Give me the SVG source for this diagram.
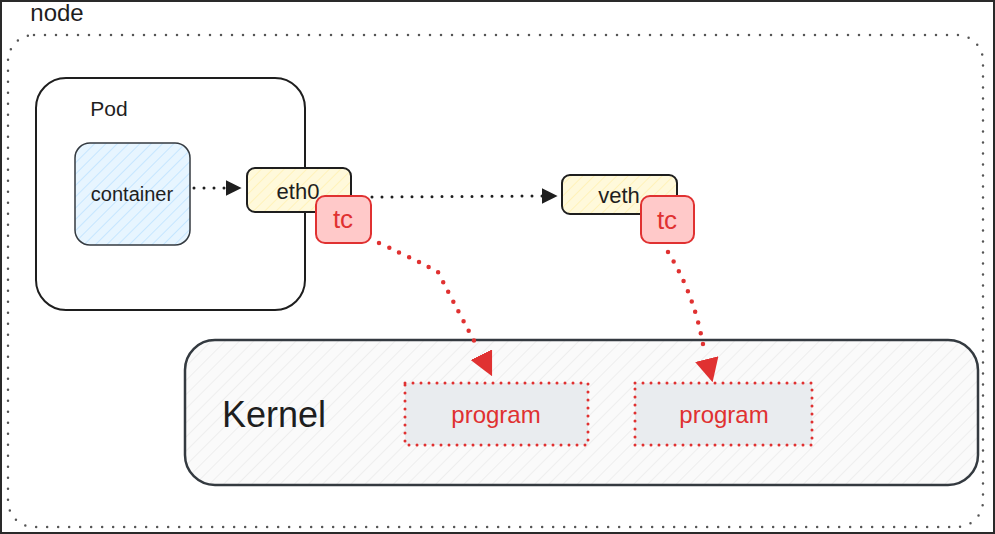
<svg xmlns="http://www.w3.org/2000/svg" width="995" height="534" viewBox="0 0 995 534">
<style>
.t{font-family:"Liberation Sans","DejaVu Sans",sans-serif;text-anchor:middle;dominant-baseline:central}
.blk{fill:#1e1e1e}
.red{fill:#e03131}
.box{stroke:#1e1e1e;stroke-width:2}
.dotb{fill:none;stroke:#1e1e1e;stroke-width:3;stroke-dasharray:0 10;stroke-linecap:round}
.dotr{fill:none;stroke:#e03131;stroke-width:4.5;stroke-dasharray:0 11;stroke-linecap:round}
</style>
<defs>
<pattern id="hb" width="8" height="8" patternUnits="userSpaceOnUse" patternTransform="rotate(45)">
<rect width="8" height="8" fill="#e7f5ff"/><line x1="0" y1="0" x2="0" y2="8" stroke="#a5d8ff" stroke-width="1"/>
</pattern>
<pattern id="hy" width="8" height="8" patternUnits="userSpaceOnUse" patternTransform="rotate(45)">
<rect width="8" height="8" fill="#fff9db"/><line x1="0" y1="0" x2="0" y2="8" stroke="#ffec99" stroke-width="1"/>
</pattern>
<pattern id="hg" width="10" height="10" patternUnits="userSpaceOnUse" patternTransform="rotate(45)">
<rect width="10" height="10" fill="#fafafa"/><line x1="0" y1="0" x2="0" y2="10" stroke="#e6e6e6" stroke-width="1.2"/>
</pattern>
<marker id="ab" viewBox="0 0 10 10" refX="9" refY="5" markerWidth="16" markerHeight="16" markerUnits="userSpaceOnUse" orient="auto">
<path d="M0,0 L10,5 L0,10 Z" fill="#1e1e1e"/>
</marker>
<marker id="ar" viewBox="0 0 10 10" refX="9" refY="5" markerWidth="24" markerHeight="24" markerUnits="userSpaceOnUse" orient="auto">
<path d="M0,0 L10,5 L0,10 Z" fill="#e03131"/>
</marker>
</defs>
<rect x="0" y="0" width="995" height="534" fill="#ffffff"/>
<rect x="1" y="1" width="993" height="532" fill="none" stroke="#2a2a2a" stroke-width="2"/>

<g id="node">
<rect x="8" y="35" width="975" height="492" rx="26" fill="none" stroke="#555" stroke-width="2.5" stroke-dasharray="0 11" stroke-linecap="round"/>
<text class="t blk" x="57" y="12" font-size="24">node</text>
</g>

<g id="pod">
<rect x="36" y="78" width="269" height="232" rx="30" fill="#ffffff" class="box"/>
<text class="t blk" x="109" y="108" font-size="21">Pod</text>
</g>

<g id="container">
<rect x="75" y="143" width="115" height="102" rx="15" fill="url(#hb)" stroke="#343a40" stroke-width="1.5"/>
<text class="t blk" x="132" y="194" font-size="20">container</text>
</g>

<g id="kernel">
<rect x="185" y="340" width="793" height="145" rx="30" fill="url(#hg)" stroke="#343a40" stroke-width="2.5"/>
<text class="t blk" x="274" y="414" font-size="36">Kernel</text>
</g>

<g id="program1">
<rect x="405" y="383" width="183" height="62" fill="#e9ecef" stroke="#e03131" stroke-width="3" stroke-dasharray="0 8" stroke-linecap="round"/>
<text class="t red" x="496" y="414" font-size="24">program</text>
</g>

<g id="program2">
<rect x="635" y="383" width="177" height="62" fill="#e9ecef" stroke="#e03131" stroke-width="3" stroke-dasharray="0 8" stroke-linecap="round"/>
<text class="t red" x="724" y="414" font-size="24">program</text>
</g>

<g id="connectors">
<path class="dotb" d="M194,188 L228,188"/>
<path d="M226,188 L240,188" stroke="none" fill="none" marker-end="url(#ab)"/>
<path class="dotb" d="M372,197 L542,196"/>
<path d="M540,196 L556,196" stroke="none" fill="none" marker-end="url(#ab)"/>
<path class="dotr" d="M379,243 Q420,262 438,272 Q460,315 478,348"/>
<path d="M478,348 L491,374" stroke="none" fill="none" marker-end="url(#ar)"/>
<path class="dotr" d="M668,252 Q695,295 704,350"/>
<path d="M706,356 L712,380" stroke="none" fill="none" marker-end="url(#ar)"/>
</g>

<g id="eth0">
<rect x="247" y="168" width="104" height="44" rx="8" fill="url(#hy)" class="box"/>
<text class="t blk" x="298" y="191" font-size="22">eth0</text>
</g>

<g id="tc1">
<rect x="316" y="196" width="55" height="47" rx="9" fill="#ffc9c9" stroke="#e03131" stroke-width="2"/>
<text class="t red" x="343" y="219" font-size="26">tc</text>
</g>

<g id="veth">
<rect x="562" y="175" width="115" height="39" rx="8" fill="url(#hy)" class="box"/>
<text class="t blk" x="619" y="195" font-size="22">veth</text>
</g>

<g id="tc2">
<rect x="641" y="196" width="53" height="47" rx="9" fill="#ffc9c9" stroke="#e03131" stroke-width="2"/>
<text class="t red" x="667" y="220" font-size="26">tc</text>
</g>
</svg>
